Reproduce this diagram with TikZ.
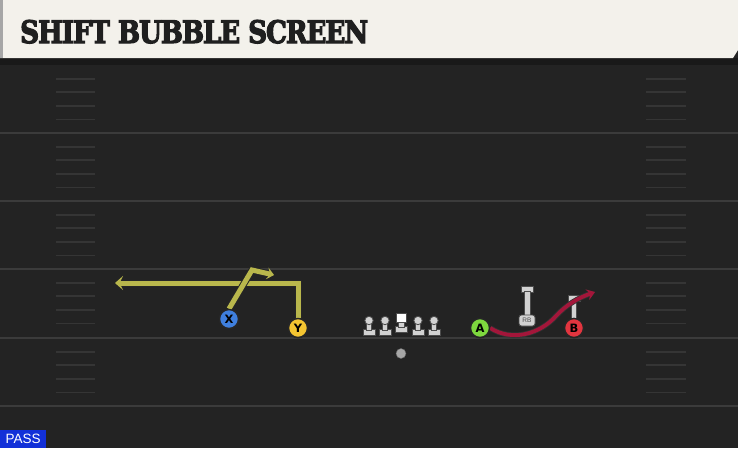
\documentclass[tikz,border=0pt]{standalone}
\usepackage{fontspec}
\setmainfont{DejaVu Sans}
\newfontfamily\titlefont[UprightFeatures={FakeBold=4}, BoldFeatures={FakeBold=4}, LetterSpace=-4]{DejaVu Serif}
\newfontfamily\tagfont{Liberation Sans}
\usetikzlibrary{arrows.meta, positioning}
\definecolor{campo}{HTML}{232323}
\definecolor{cabecera}{HTML}{F3F1EB}
\definecolor{linea}{HTML}{3B3B3B}
\definecolor{marca}{HTML}{353535}
\definecolor{ruta}{HTML}{B9B74C}
\definecolor{rojo}{HTML}{A3163A}
\definecolor{azul}{HTML}{3F7FDE}
\definecolor{amarillo}{HTML}{F4C531}
\definecolor{verde}{HTML}{7ED83E}
\definecolor{rosa}{HTML}{E2353F}
\definecolor{gris}{HTML}{D2D2D2}
\definecolor{pase}{HTML}{1230D8}
\tikzstyle{player} = [circle, draw=black!85, line width=1.4pt, minimum size=19pt, inner sep=0pt, font=\bfseries\fontsize{11.5}{11.5}\selectfont]
\tikzstyle{yardline} = [draw=linea, line width=1.8pt]
\tikzstyle{hash} = [draw=marca, line width=1.8pt]
\tikzstyle{route} = [draw=ruta, line width=5pt, preaction={draw=black!85, line width=7pt}]
\tikzstyle{curvy} = [draw=rojo, line width=3.8pt, preaction={draw=black!80, line width=5.4pt}]
\tikzstyle{blocker} = [fill=gris, draw=black!70, line width=0.8pt]

\begin{document}
\begin{tikzpicture}[x=1pt, y=-1pt]
	\useasboundingbox (0,0) rectangle (738,448);
	% field
	\fill[campo] (0,0) rectangle (738,448);
	\foreach \y in {133, 201, 269, 338, 406}
		\draw[yardline] (0,\y) -- (738,\y);
	\foreach \b in {65, 133, 201, 269, 338}
		\foreach \k in {1,...,4} {
			\draw[hash] (56,\b+13.6*\k) -- (95,\b+13.6*\k);
			\draw[hash] (646,\b+13.6*\k) -- (686,\b+13.6*\k);
		}
	% header
	\fill[black!90] (0,58) rectangle (738,65);
	\fill[cabecera] (0,0) -- (738,0) -- (738,50) -- (733,58) -- (0,58) -- cycle;
	\fill[gray!70] (0,0) rectangle (3,58);
	\node[anchor=base west, inner sep=0pt, text=black!88] (title) at (20,43)
		{\resizebox{348pt}{23pt}{\titlefont\bfseries SHIFT BUBBLE SCREEN}};
	% line
	\foreach \x [count=\i] in {369, 385, 418, 434} {
		\filldraw[blocker] (\x-6,329) rectangle (\x+6,335.5);
		\filldraw[blocker] (\x-2.8,321) rectangle (\x+2.8,330);
		\filldraw[blocker] (\x,320.5) circle (4.2pt);
	}
	\filldraw[blocker] (395.5,326) rectangle (407.5,332.5);
	\filldraw[blocker] (398.8,320) rectangle (404.2,327);
	\filldraw[fill=white, draw=black!70, line width=0.8pt] (396.5,313) rectangle (406.5,322);
	\node[circle, fill=gray!70, draw=black!60, minimum size=10pt, inner sep=0pt] (qb) at (401,353.5) {};
	% running back
	\filldraw[blocker] (521.5,286.5) rectangle (533.5,292.5);
	\filldraw[blocker] (524.5,291) rectangle (530.5,316);
	\node[blocker, rounded corners=2.5pt, minimum width=16pt, minimum height=11pt, inner sep=0pt,
		font=\tagfont\fontsize{6.5}{6.5}\selectfont, text=black!70] (rb) at (527,320.5) {RB};
	\filldraw[blocker] (568,295.5) rectangle (580,301.5);
	\filldraw[blocker] (571.5,300) rectangle (576.5,322);
	% routes
	\node[player, fill=azul] (X) at (229,319) {X};
	\node[player, fill=amarillo] (Y) at (298,328) {Y};
	\node[player, fill=verde] (A) at (480,328) {A};
	\node[player, fill=rosa] (B) at (574,328) {B};
	\coordinate (ycorner) at (298,283);
	\coordinate (yend) at (115,283);
	\coordinate (xbreak) at (252,270);
	\coordinate (xend) at (274,275);
	\coordinate (aend) at (595,292);
	\draw[route, -{Stealth[length=8pt, width=14pt, inset=3.5pt]}] (Y.north) -- (ycorner) -- (yend);
	\draw[route, -{Stealth[length=7pt, width=12pt, inset=3pt]}] (X.north) -- (xbreak) -- (xend);
	\draw[curvy, -{Stealth[length=8pt, width=11pt, inset=3pt]}] (A.east) .. controls (512,342) and (540,334) .. (556,316) .. controls (566,305) and (578,298) .. (aend);
	\node[player, fill=azul] at (X) {X};
	\node[player, fill=amarillo] at (Y) {Y};
	\node[player, fill=verde] at (A) {A};
	\node[player, fill=rosa] at (B) {B};
	% play tag
	\node[fill=pase, text=white, anchor=south west, inner sep=0pt, minimum width=46pt, minimum height=18pt,
		font=\tagfont\fontsize{13.5}{13.5}\selectfont] (tag) at (0,448) {PASS};
\end{tikzpicture}
\end{document}
